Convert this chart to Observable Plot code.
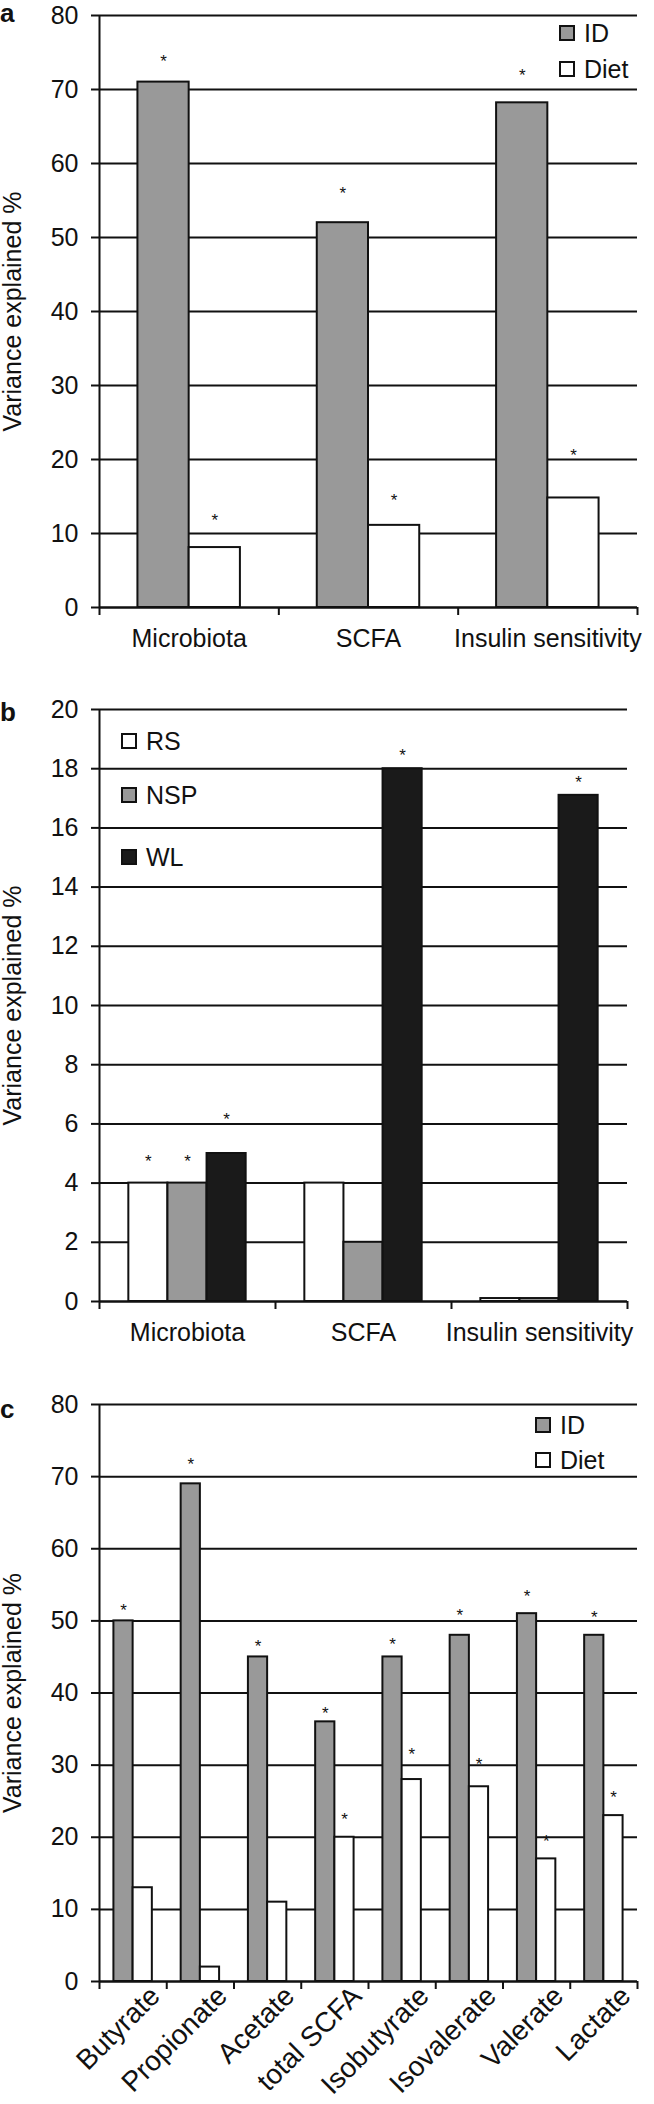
<!DOCTYPE html>
<html><head><meta charset="utf-8">
<script src="https://cdn.jsdelivr.net/npm/d3@7"></script>
<script src="https://cdn.jsdelivr.net/npm/@observablehq/plot@0.6"></script>
<style>
body{margin:0;background:#fff;}
#root{position:relative;width:654px;height:2104px;font-family:"Liberation Sans",Arial,sans-serif;color:#111;}
#root svg{position:absolute;left:0;}
.letter{position:absolute;left:0;font-weight:bold;font-size:26px;line-height:1;}
.item{position:absolute;display:flex;align-items:center;white-space:nowrap;font-size:25px;line-height:1;}
.sw{width:16px;height:16px;box-sizing:border-box;border:2px solid #111;margin-right:9px;}
</style></head>
<body><div id="root"></div>
<script>
// ---------- data ----------
const catsA = ["Microbiota", "SCFA", "Insulin sensitivity"];
const seriesA = ["ID", "Diet"];
const idA = [71, 52, 68.2];
const dietA = [8.1, 11.1, 14.8];
const starIdA = [74.4, 56.6, 72.6];
const starDietA = [12.4, 15.1, 21.2];
const yTicksA = [0, 10, 20, 30, 40, 50, 60, 70, 80];

const catsB = ["Microbiota", "SCFA", "Insulin sensitivity"];
const seriesB = ["RS", "NSP", "WL"];
const rsB = [4, 4, 0.1];
const nspB = [4, 2, 0.1];
const wlB = [5, 18, 17.1];
const starRsB = [4.9, null, null];
const starNspB = [4.9, null, null];
const starWlB = [6.3, 18.6, 17.7];
const yTicksB = [0, 2, 4, 6, 8, 10, 12, 14, 16, 18, 20];

const catsC = ["Butyrate", "Propionate", "Acetate", "total SCFA", "Isobutyrate", "Isovalerate", "Valerate", "Lactate"];
const seriesC = ["ID", "Diet"];
const idC = [50, 69, 45, 36, 45, 48, 51, 48];
const dietC = [13, 2, 11, 20, 28, 27, 17, 23];
const starIdC = [52.1, 72.3, 47.1, 37.8, 47.4, 51.5, 54.1, 51.2];
const starDietC = [null, null, null, 23.2, 32.2, 30.8, 20.1, 26.2];
const yTicksC = [0, 10, 20, 30, 40, 50, 60, 70, 80];

const fills = {ID: "#999999", Diet: "#ffffff", RS: "#ffffff", NSP: "#999999", WL: "#1a1a1a"};
const INK = "#111";
const FONT = '"Liberation Sans", Arial, sans-serif';

function panel(cfg) {
  const {cats, series, values, stars, yTicks, height, marginTop, marginBottom, marginRight, rotate, top} = cfg;
  const n = cats.length;
  const inner = d3.scaleBand().domain(series).range([0, 1]).paddingInner(0).paddingOuter(0.75);
  const bw = inner.bandwidth();
  const rows = [], starRows = [];
  cats.forEach((c, i) => series.forEach((s, j) => {
    const x1 = i + inner(s);
    rows.push({cat: c, series: s, value: values[j][i], x1, x2: x1 + bw});
    if (stars[j][i] != null) starRows.push({x: x1 + bw / 2, y: stars[j][i]});
  }));
  const labelTicks = cats.map((c, i) => i + 0.5);
  const svg = Plot.plot({
    width: 654, height, marginLeft: 99, marginRight, marginTop, marginBottom,
    style: {fontFamily: FONT, fontSize: "25px", color: INK, background: "transparent", overflow: "visible"},
    x: {domain: [0, n]},
    y: {domain: [0, yTicks[yTicks.length - 1]]},
    marks: [
      Plot.gridY(yTicks, {stroke: INK, strokeOpacity: 1, strokeWidth: 2}),
      Plot.axisY(yTicks, {tickSize: 8, tickPadding: 13, strokeWidth: 2, fontSize: 25,
        label: "Variance explained %", labelAnchor: "center", labelArrow: "none", labelOffset: 96}),
      Plot.ruleX([0], {stroke: INK, strokeWidth: 2}),
      Plot.rectY(rows, {x1: "x1", x2: "x2", y: "value", fill: d => fills[d.series], stroke: INK, strokeWidth: 2}),
      Plot.ruleY([0], {stroke: INK, strokeWidth: 2}),
      Plot.axisX(d3.range(n + 1), {tickSize: 8, strokeWidth: 2, tickFormat: () => "", label: null}),
      rotate
        ? Plot.axisX(labelTicks, {tickSize: 0, tickPadding: 10, tickRotate: -45, fontSize: 28, dx: 22,
            tickFormat: d => cats[Math.floor(d)], label: null})
        : Plot.axisX(labelTicks, {tickSize: 0, tickPadding: 22, fontSize: 25,
            tickFormat: d => cats[Math.floor(d)], label: null}),
      Plot.text(starRows, {x: "x", y: "y", text: () => "*", fontSize: 17, dy: 5, fill: INK})
    ]
  });
  svg.style.top = top + "px";
  return svg;
}

const root = document.getElementById("root");
root.appendChild(panel({cats: catsA, series: seriesA, values: [idA, dietA], stars: [starIdA, starDietA],
  yTicks: yTicksA, height: 657, marginTop: 15, marginBottom: 50, marginRight: 17, top: 0}));
root.appendChild(panel({cats: catsB, series: seriesB, values: [rsB, nspB, wlB], stars: [starRsB, starNspB, starWlB],
  yTicks: yTicksB, height: 694, marginTop: 52, marginBottom: 50, marginRight: 27, top: 657}));
root.appendChild(panel({cats: catsC, series: seriesC, values: [idC, dietC], stars: [starIdC, starDietC],
  yTicks: yTicksC, height: 753, marginTop: 53, marginBottom: 123, marginRight: 17, rotate: true, top: 1351}));

// panel letters
[["a", 0], ["b", 699], ["c", 1396]].forEach(([t, y]) => {
  const d = document.createElement("div");
  d.className = "letter"; d.textContent = t; d.style.top = y + "px";
  root.appendChild(d);
});

// legends (inside plot areas)
function legend(items, left) {
  items.forEach(([name, cy]) => {
    const it = document.createElement("div");
    it.className = "item";
    it.style.left = left + "px";
    it.style.top = (cy - 12.5) + "px";
    const sw = document.createElement("div");
    sw.className = "sw"; sw.style.background = fills[name];
    const tx = document.createElement("span"); tx.textContent = name;
    it.appendChild(sw); it.appendChild(tx);
    root.appendChild(it);
  });
}
legend([["ID", 33], ["Diet", 69]], 559);
legend([["RS", 741], ["NSP", 795], ["WL", 857]], 121);
legend([["ID", 1425], ["Diet", 1460]], 535);
</script>
</body></html>
